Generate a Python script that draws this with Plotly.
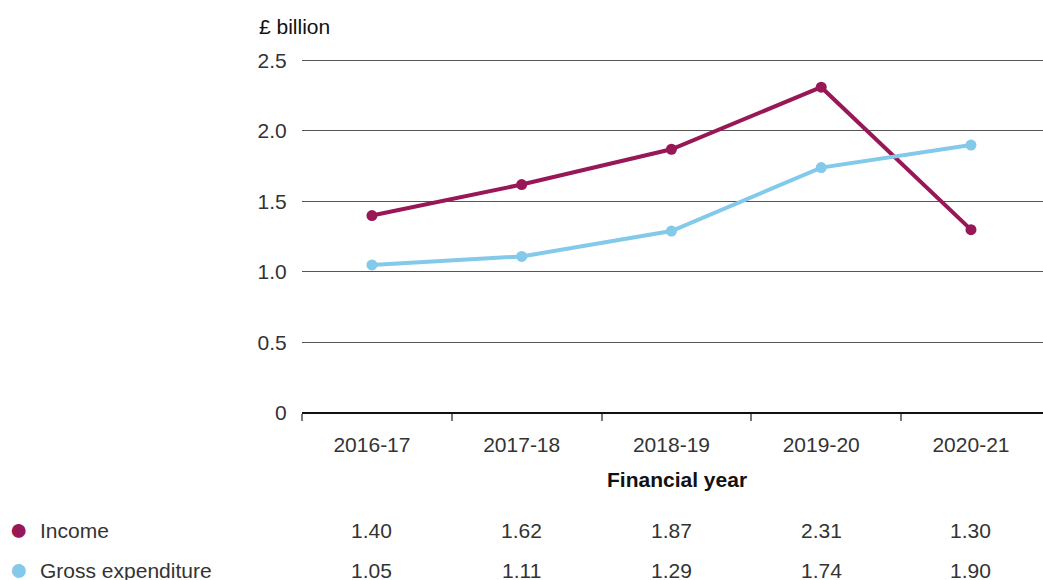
import plotly.graph_objects as go

# Financial years and series values (£ billion)
years = ["2016-17", "2017-18", "2018-19", "2019-20", "2020-21"]
income = [1.40, 1.62, 1.87, 2.31, 1.30]
gross_expenditure = [1.05, 1.11, 1.29, 1.74, 1.90]

y_tickvals = [0, 0.5, 1.0, 1.5, 2.0, 2.5]
y_ticktext = ["0", "0.5", "1.0", "1.5", "2.0", "2.5"]

INCOME_COLOUR = "#981757"
EXPEND_COLOUR = "#82c9ea"
TEXT_COLOUR = "#333333"
FONT = "Liberation Sans, Arial, Helvetica, sans-serif"
FS = 21

W, H = 1043, 580
PLOT_L, PLOT_R, PLOT_T, PLOT_B = 302, 1043, 59, 413

xpos = list(range(len(years)))
x_range = [-0.467, 4.481]
y_range = [0, 2.51]
# category boundaries sit just left of each point position
boundaries = [i - 0.467 for i in range(len(years))]


def px_x(px):
    return (px - PLOT_L) / (PLOT_R - PLOT_L)


def px_y(py):
    return (PLOT_B - py) / (PLOT_B - PLOT_T)


fig = go.Figure()

fig.add_trace(go.Scatter(
    x=xpos, y=income, name="Income", mode="lines+markers",
    line=dict(color=INCOME_COLOUR, width=4),
    marker=dict(color=INCOME_COLOUR, size=11),
    xaxis="x", yaxis="y", showlegend=False,
))
fig.add_trace(go.Scatter(
    x=xpos, y=gross_expenditure, name="Gross expenditure", mode="lines+markers",
    line=dict(color=EXPEND_COLOUR, width=4),
    marker=dict(color=EXPEND_COLOUR, size=11),
    xaxis="x", yaxis="y", showlegend=False,
))
# invisible trace so the secondary x axis (category labels) is drawn
fig.add_trace(go.Scatter(x=[xpos[0]], y=[None], xaxis="x2", yaxis="y",
                         showlegend=False, hoverinfo="skip"))

# Data table beneath the chart
rows = [("Income", income, INCOME_COLOUR, 530),
        ("Gross expenditure", gross_expenditure, EXPEND_COLOUR, 570)]
annotations = []
for label, values, colour, ypx in rows:
    yp = px_y(ypx)
    annotations.append(dict(
        text="●", x=px_x(18), xref="paper", y=px_y(ypx - 1), yref="paper",
        xanchor="center", yanchor="middle", showarrow=False,
        font=dict(size=32, color=colour, family=FONT),
    ))
    annotations.append(dict(
        text=label, x=px_x(38), xref="paper", y=yp, yref="paper",
        xanchor="left", yanchor="middle", showarrow=False,
        font=dict(size=FS, color=TEXT_COLOUR, family=FONT),
    ))
    for xi, v in zip(xpos, values):
        annotations.append(dict(
            text=f"{v:.2f}", x=xi, xref="x", y=yp, yref="paper",
            xanchor="center", yanchor="middle", showarrow=False,
            font=dict(size=FS, color=TEXT_COLOUR, family=FONT),
        ))

# Axis titles
annotations.append(dict(
    text="£ billion", x=px_x(257), xref="paper", y=px_y(27), yref="paper",
    xanchor="left", yanchor="middle", showarrow=False,
    font=dict(size=FS, color="#111111", family=FONT),
))
annotations.append(dict(
    text="<b>Financial year</b>", x=2.04, xref="x", y=px_y(479), yref="paper",
    xanchor="center", yanchor="middle", showarrow=False,
    font=dict(size=FS, color="#111111", family=FONT),
))

fig.update_layout(
    width=W, height=H,
    margin=dict(l=PLOT_L, r=W - PLOT_R, t=PLOT_T, b=H - PLOT_B),
    paper_bgcolor="white", plot_bgcolor="white",
    font=dict(family=FONT, size=FS, color=TEXT_COLOUR),
    xaxis=dict(
        range=x_range, tickmode="array", tickvals=boundaries,
        ticktext=[""] * len(boundaries),
        ticks="outside", ticklen=7, tickwidth=1.5, tickcolor="#777777",
        showgrid=False, zeroline=False, showline=False,
    ),
    xaxis2=dict(
        range=x_range, overlaying="x", side="bottom", anchor="y",
        tickmode="array", tickvals=xpos, ticktext=years,
        ticks="outside", ticklen=13, tickcolor="rgba(0,0,0,0)",
        showgrid=False, zeroline=False, showline=False,
        tickfont=dict(size=FS, color=TEXT_COLOUR),
    ),
    yaxis=dict(
        range=y_range, tickmode="array", tickvals=y_tickvals, ticktext=y_ticktext,
        ticks="outside", ticklen=10, tickcolor="rgba(0,0,0,0)",
        showgrid=True, gridcolor="#555555", gridwidth=1,
        zeroline=True, zerolinecolor="#111111", zerolinewidth=1.5,
        showline=False, tickfont=dict(size=FS, color=TEXT_COLOUR),
    ),
    annotations=annotations,
)

fig.write_html("out.html")
